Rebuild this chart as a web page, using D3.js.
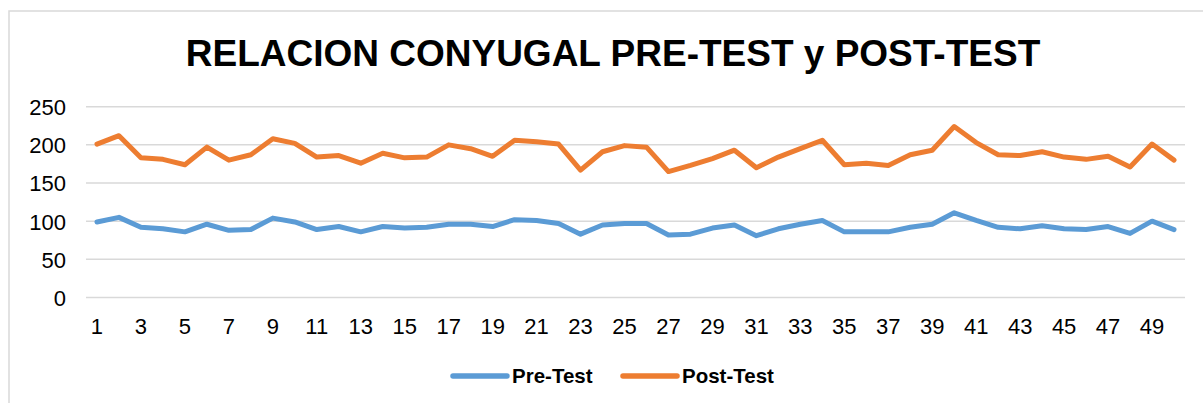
<!DOCTYPE html>
<html>
<head>
<meta charset="utf-8">
<script src="https://cdn.jsdelivr.net/npm/d3@7"></script>
<style>
  html, body { margin: 0; padding: 0; background: #fff; }
  svg { display: block; }
  text { font-family: "Liberation Sans", Arial, sans-serif; }
</style>
</head>
<body>
<svg id="chart" width="1203" height="403"></svg>
<script>
const title = "RELACION CONYUGAL PRE-TEST y POST-TEST";
const categories = d3.range(1, 51);
const preTest = [99, 105, 92, 90, 86, 96, 88, 89, 104, 99,
                 89, 93, 86, 93, 91, 92, 96, 96, 93, 102,
                 101, 97, 83, 95, 97, 97, 82, 83, 91, 95,
                 81, 90, 96, 101, 86, 86, 86, 92, 96, 111,
                 101, 92, 90, 94, 90, 89, 93, 84, 100, 89];
const postTest = [201, 212, 183, 181, 174, 197, 180, 187, 208, 202,
                  184, 186, 176, 189, 183, 184, 200, 195, 185, 206,
                  204, 201, 167, 191, 199, 197, 165, 173, 182, 193,
                  170, 184, 195, 206, 174, 176, 173, 187, 193, 224,
                  203, 187, 186, 191, 184, 181, 185, 171, 201, 180];
const yTicks = [0, 50, 100, 150, 200, 250];
const seriesNames = ["Pre-Test", "Post-Test"];
const seriesColors = ["#5B9BD5", "#ED7D31"];

const svg = d3.select("#chart");

// chart area border
svg.append("rect")
  .attr("x", 9).attr("y", 11)
  .attr("width", 1220).attr("height", 420)
  .attr("fill", "none").attr("stroke", "#d9d9d9").attr("stroke-width", 1.5);

const x = d3.scaleBand().domain(categories).range([86, 1185]);
const y = d3.scaleLinear().domain([0, 250]).range([297.5, 106.7]);

// title
svg.append("text")
  .attr("x", 613).attr("y", 66)
  .attr("text-anchor", "middle")
  .attr("font-size", 37).attr("font-weight", "bold")
  .attr("fill", "#000")
  .text(title);

// gridlines
svg.append("g").selectAll("line").data(yTicks).join("line")
  .attr("x1", x.range()[0]).attr("x2", x.range()[1])
  .attr("y1", d => y(d)).attr("y2", d => y(d))
  .attr("stroke", "#d9d9d9").attr("stroke-width", 1.5);

// y axis labels
const yAxis = d3.axisLeft(y).tickValues(yTicks).tickSize(0).tickPadding(0);
const gy = svg.append("g").attr("transform", "translate(66,0)").call(yAxis);
gy.select(".domain").remove();
gy.selectAll("text")
  .attr("font-family", "'Liberation Sans', Arial, sans-serif")
  .attr("font-size", 22).attr("fill", "#000").attr("dy", "0.36em");

// x axis labels
const xAxis = d3.axisBottom(x)
  .tickValues(categories.filter(d => d % 2 === 1))
  .tickSize(0).tickPadding(0);
const gx = svg.append("g").attr("transform", "translate(0,318)").call(xAxis);
gx.select(".domain").remove();
gx.selectAll("text")
  .attr("font-family", "'Liberation Sans', Arial, sans-serif")
  .attr("font-size", 22).attr("fill", "#000").attr("dy", "0.71em");

// lines
const line = d3.line()
  .x((d, i) => x(categories[i]) + x.bandwidth() / 2)
  .y(d => y(d));

[preTest, postTest].forEach((vals, k) => {
  svg.append("path")
    .datum(vals)
    .attr("d", line)
    .attr("fill", "none")
    .attr("stroke", seriesColors[k])
    .attr("stroke-width", 5)
    .attr("stroke-linejoin", "round")
    .attr("stroke-linecap", "round");
});

// legend
const legendItems = [
  { name: seriesNames[0], color: seriesColors[0], x1: 453, x2: 507, tx: 512 },
  { name: seriesNames[1], color: seriesColors[1], x1: 623, x2: 677, tx: 682 }
];
const lg = svg.append("g");
legendItems.forEach(it => {
  lg.append("line")
    .attr("x1", it.x1).attr("x2", it.x2)
    .attr("y1", 376).attr("y2", 376)
    .attr("stroke", it.color).attr("stroke-width", 5.5)
    .attr("stroke-linecap", "round");
  lg.append("text")
    .attr("x", it.tx).attr("y", 383)
    .attr("font-size", 20.5).attr("font-weight", "bold").attr("fill", "#000")
    .text(it.name);
});
</script>
</body>
</html>
